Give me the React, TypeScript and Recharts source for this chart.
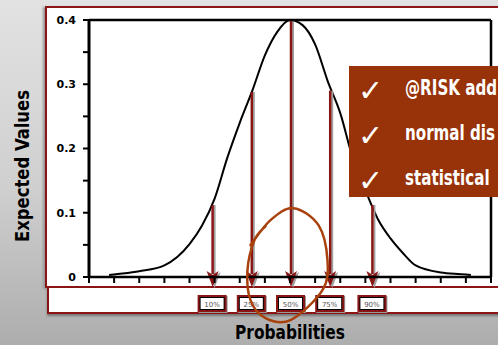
import React from 'react';
import {
    ComposedChart,
    Line,
    XAxis,
    YAxis,
    ReferenceLine,
    ReferenceDot
} from 'recharts';

// curve points (x in tick units, 0..16)
const curveX = [0.8, 1, 2, 3, 4, 4.5, 5, 5.5, 6, 6.5, 7, 7.5, 8, 8.5, 9, 9.5, 10, 10.5, 11, 11.5, 12, 12.5, 13, 14, 15, 15.2];
const curveY = [0.003, 0.004, 0.009, 0.018, 0.051, 0.08, 0.122, 0.185, 0.24, 0.29, 0.345, 0.382, 0.4, 0.392, 0.362, 0.305, 0.255, 0.185, 0.135, 0.09, 0.06, 0.037, 0.018, 0.007, 0.004, 0.003];

// percentile arrows
const arrowX = [4.92, 6.48, 8.04, 9.6, 11.28];
const arrowTop = [0.112, 0.288, 0.4, 0.29, 0.112];
const arrowLabels = ['10%', '25%', '50%', '75%', '90%'];

const yTicks = [0, 0.05, 0.1, 0.15, 0.2, 0.25, 0.3, 0.35, 0.4];
const yLabels = ['0', '0.1', '0.2', '0.3', '0.4'];
const xTicks = [0, 1, 2, 3, 4, 5, 6, 7, 8, 9, 10, 11, 12, 13, 14, 15, 16];

// only the visible part of each bullet (the slide is cut at the right edge)
const bullets = ['@RISK add', 'normal dis', 'statistical'];

const circleAt = { x: 7.9, y: 0.02 };

const RED = '#8a1515';
const TITLE_FONT = "'DejaVu Sans Condensed', 'Liberation Sans Narrow', sans-serif";

const chartData = curveX.map((x, i) => ({ x, y: curveY[i] }));

const YTick = (props: any) => {
    const { x, y, payload } = props;
    const v = Math.round(payload.value * 100) / 100;
    const lbl = yLabels.find((l) => parseFloat(l) === v);
    if (lbl === undefined) return <g />;
    return (
        <text x={x} y={y} dy="0.36em" textAnchor="end" fontSize={11} fontWeight="bold"
            fontFamily="'DejaVu Sans', sans-serif" fill="#000">
            {lbl}
        </text>
    );
};

const makeArrow = (label: string) => (props: any) => {
    const { x1, y1, y2 } = props;
    const x = x1;
    return (
        <g>
            <line x1={x + 2} y1={y1} x2={x + 2} y2={y2 - 3} stroke="#a0a0a0" strokeWidth={2} />
            <line x1={x} y1={y1} x2={x} y2={y2 - 3} stroke={RED} strokeWidth={2.5} />
            <polygon points={`${x - 4},${y2 - 5} ${x + 2},${y2 - 1} ${x + 8},${y2 - 5} ${x + 2},${y2 + 11}`} fill="#a0a0a0" />
            <polygon points={`${x - 6},${y2 - 6} ${x},${y2 - 2} ${x + 6},${y2 - 6} ${x},${y2 + 10}`} fill={RED} />
            <rect x={x - 14} y={y2 + 19} width={29} height={17} fill="#999" />
            <rect x={x - 15} y={y2 + 18} width={29} height={17} fill={RED} />
            <rect x={x - 13} y={y2 + 20} width={25} height={13} fill="#000" />
            <rect x={x - 12} y={y2 + 21} width={23} height={11} fill="#fff" />
            <text x={x - 0.5} y={y2 + 30} textAnchor="middle" fontSize={7}
                fontFamily="'DejaVu Sans', sans-serif" fill="#555">
                {label}
            </text>
        </g>
    );
};

const circlePts = [
    [-37, -19], [-17, -44], [6, -56], [31, -39], [40, -4], [35, 26], [3, 56],
    [-22, 54], [-37, 36], [-40, 6], [-33, -24], [-22, -38]
];

const HandCircle = (props: any) => {
    const { cx, cy } = props;
    const p = circlePts.map(([dx, dy]) => [cx + dx, cy + dy]);
    let d = `M${p[0][0]},${p[0][1]}`;
    for (let i = 0; i < p.length - 1; i++) {
        const p0 = p[Math.max(i - 1, 0)];
        const p1 = p[i];
        const p2 = p[i + 1];
        const p3 = p[Math.min(i + 2, p.length - 1)];
        const c1 = [p1[0] + (p2[0] - p0[0]) / 6, p1[1] + (p2[1] - p0[1]) / 6];
        const c2 = [p2[0] - (p3[0] - p1[0]) / 6, p2[1] - (p3[1] - p1[1]) / 6];
        d += ` C${c1[0]},${c1[1]} ${c2[0]},${c2[1]} ${p2[0]},${p2[1]}`;
    }
    return <path d={d} fill="none" stroke="#a8410c" strokeWidth={2.5} strokeLinecap="round" />;
};

const App = () => {
    return (
        <div style={{
            position: 'absolute', left: 0, top: 0, width: 498, height: 345, overflow: 'hidden',
            background: 'linear-gradient(to bottom, #e2e2e2 0%, #cfcfcf 55%, #adadad 100%)'
        }}>
            {/* upper panel */}
            <div style={{
                position: 'absolute', left: 45, top: 6, width: 470, height: 278,
                background: '#fff', border: `2px solid ${RED}`, boxShadow: '-2px 1px 2px #999'
            }} />
            {/* lower panel */}
            <div style={{
                position: 'absolute', left: 47, top: 286, width: 470, height: 24,
                background: '#fff', border: `2px solid ${RED}`, boxShadow: '0 2px 2px #777'
            }} />

            <div style={{ position: 'absolute', left: 0, top: 0 }}>
                <ComposedChart width={498} height={345} data={chartData}
                    margin={{ top: 16, right: 3, bottom: 38, left: 49 }}>
                    <XAxis dataKey="x" type="number" domain={[0, 16]} ticks={xTicks} height={30}
                        axisLine={{ stroke: '#000', strokeWidth: 2.5 }}
                        tickLine={{ stroke: '#000', strokeWidth: 2 }} tickSize={6}
                        tickFormatter={() => ''} />
                    <XAxis xAxisId="top" orientation="top" dataKey="x" type="number" domain={[0, 16]}
                        height={4} tick={false} tickLine={false}
                        axisLine={{ stroke: '#000', strokeWidth: 2.5 }} />
                    <YAxis type="number" domain={[0, 0.4]} ticks={yTicks} width={40}
                        axisLine={{ stroke: '#000', strokeWidth: 3 }}
                        tickLine={{ stroke: '#000', strokeWidth: 2 }} tickSize={6} tickMargin={7}
                        tick={<YTick />} interval={0} />
                    <YAxis yAxisId="right" orientation="right" type="number" domain={[0, 0.4]} width={4}
                        tick={false} tickLine={false} axisLine={{ stroke: '#000', strokeWidth: 2.5 }} />
                    <Line type="monotone" dataKey="y" stroke="#000" strokeWidth={2} dot={false}
                        isAnimationActive={false} />
                    {arrowX.map((ax, i) => (
                        <ReferenceLine key={arrowLabels[i]} ifOverflow="visible"
                            segment={[{ x: ax, y: arrowTop[i] }, { x: ax, y: 0 }]}
                            shape={makeArrow(arrowLabels[i])} />
                    ))}
                    <ReferenceDot x={circleAt.x} y={circleAt.y} ifOverflow="visible" shape={<HandCircle />} />
                </ComposedChart>
            </div>

            {/* bullet box */}
            <div style={{
                position: 'absolute', left: 349, top: 66, width: 160, height: 131, background: '#983208'
            }}>
                {bullets.map((b, i) => (
                    <div key={b} style={{
                        position: 'absolute', left: 0, top: 10 + i * 45, height: 30, width: 300,
                        color: '#fff', whiteSpace: 'nowrap'
                    }}>
                        <span style={{
                            position: 'absolute', left: 9, top: -3, fontSize: 30,
                            fontFamily: "'DejaVu Sans', sans-serif", fontWeight: 'bold'
                        }}>✓</span>
                        <span style={{
                            position: 'absolute', left: 56, top: 0, fontSize: 21,
                            fontFamily: TITLE_FONT, fontWeight: 'bold',
                            display: 'inline-block', transform: 'scaleX(0.8)', transformOrigin: 'left center'
                        }}>{b}</span>
                    </div>
                ))}
            </div>

            {/* axis titles */}
            <svg width={498} height={345} style={{ position: 'absolute', left: 0, top: 0 }}>
                <text transform="translate(29,166) rotate(-90)" textAnchor="middle" fontSize={19}
                    fontWeight="bold" textLength={152} lengthAdjust="spacingAndGlyphs"
                    fontFamily={TITLE_FONT} fill="#000">
                    Expected Values
                </text>
                <text x={290} y={339} textAnchor="middle" fontSize={19} fontWeight="bold"
                    textLength={110} lengthAdjust="spacingAndGlyphs"
                    fontFamily={TITLE_FONT} fill="#000">
                    Probabilities
                </text>
            </svg>
        </div>
    );
};

export default App;
